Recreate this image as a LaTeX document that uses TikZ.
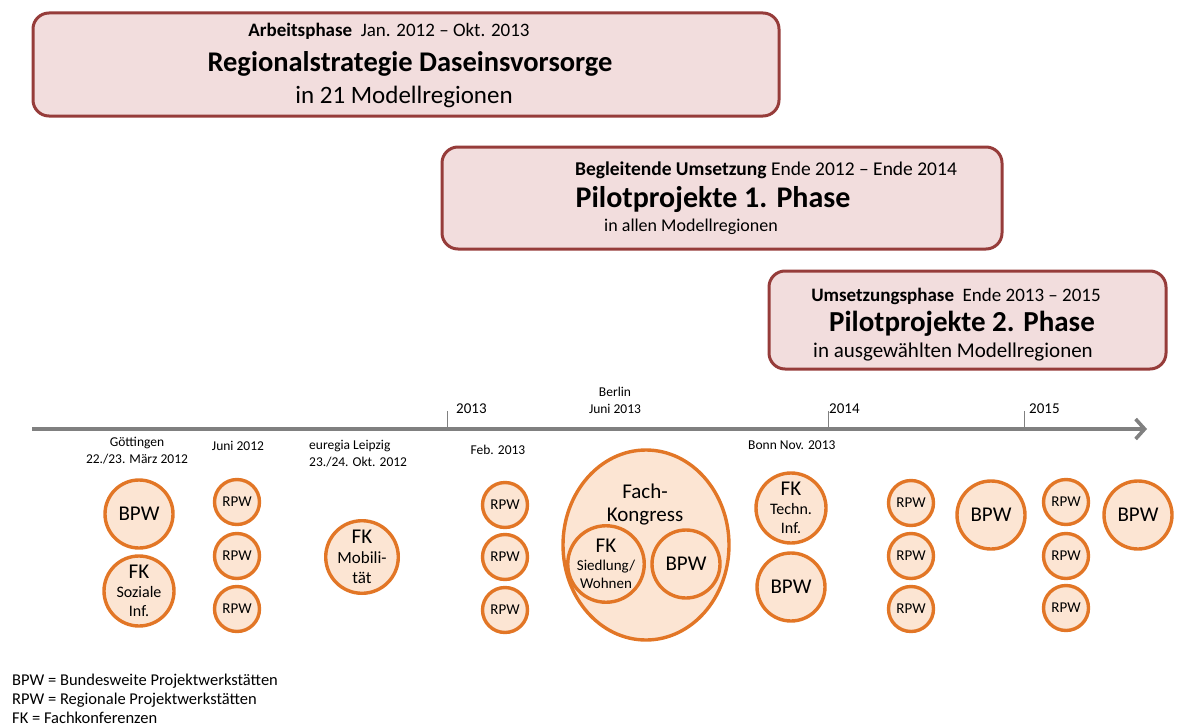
\documentclass[tikz,border=0pt]{standalone}
\usepackage{fontspec}
\setmainfont{Carlito}
\usetikzlibrary{arrows.meta,shapes.geometric}
\definecolor{boxfill}{RGB}{242,221,221}
\definecolor{boxline}{RGB}{150,60,58}
\definecolor{evline}{RGB}{226,118,38}
\definecolor{evfill}{RGB}{252,229,211}
\definecolor{axisgray}{RGB}{128,128,128}
\newcommand{\fkhead}{\fontsize{21}{21}\selectfont FK}
\tikzset{
  phasebox/.style={draw=boxline, fill=boxfill, line width=3pt, rounded corners=16pt},
  ev/.style={circle, draw=evline, fill=evfill, line width=3.4pt, inner sep=0pt, align=center},
  rpw/.style={ev, minimum size=45pt, font=\fontsize{15}{16}\selectfont},
  bpw/.style={ev, minimum size=68pt, font=\fontsize{21}{22}\selectfont},
  fk/.style={ev, minimum size=70pt, font=\fontsize{16}{19}\selectfont},
  lbl/.style={font=\fontsize{13.5}{17}\selectfont, align=center, inner sep=0pt},
  yearlbl/.style={font=\fontsize{15}{16}\selectfont, anchor=west, inner sep=0pt},
  tick/.style={draw=axisgray, line width=0.8pt},
  legend/.style={font=\fontsize{16.5}{19}\selectfont, anchor=base west, inner sep=0pt},
  txt/.style={inner sep=0pt},
}
\begin{document}
\begin{tikzpicture}[x=1pt, y=-1pt]
\useasboundingbox (0,0) rectangle (1177,725);

% phase boxes
\draw[phasebox] (33,13) rectangle (779,116);
\node[txt, font=\fontsize{19}{20}\selectfont] (p1a) at (389,31) {\textbf{Arbeitsphase}\ \ Jan. 2012 – Okt. 2013};
\node[txt, font=\fontsize{28.5}{30}\selectfont\bfseries] (p1b) at (410,64) {Regionalstrategie Daseinsvorsorge};
\node[txt, font=\fontsize{25}{26}\selectfont] (p1c) at (404,97) {in 21 Modellregionen};

\draw[phasebox] (442,147) rectangle (1002,249);
\node[txt, font=\fontsize{19.5}{20}\selectfont] (p2a) at (766,170) {\textbf{Begleitende Umsetzung} Ende 2012 – Ende 2014};
\node[txt, font=\fontsize{30}{31}\selectfont\bfseries] (p2b) at (713,200) {Pilotprojekte 1. Phase};
\node[txt, font=\fontsize{18}{19}\selectfont] (p2c) at (691,227) {in allen Modellregionen};

\draw[phasebox] (769,271) rectangle (1166,369);
\node[txt, font=\fontsize{19}{20}\selectfont] (p3a) at (956,296) {\textbf{Umsetzungsphase}\ \ Ende 2013 – 2015};
\node[txt, font=\fontsize{29}{30}\selectfont\bfseries] (p3b) at (962,324) {Pilotprojekte 2. Phase};
\node[txt, font=\fontsize{21}{22}\selectfont] (p3c) at (953,352) {in ausgewählten Modellregionen};

% time axis
\coordinate (ax0) at (32,429);
\coordinate (ax1) at (1147,429);
\draw[draw=axisgray, line width=3.6pt, -{Straight Barb[length=9pt, width=20pt, line width=3.6pt]}] (ax0) -- (ax1);
\foreach \n/\x in {t13/447, t14/828, t15/1024} {
  \coordinate (\n a) at (\x,429);
  \coordinate (\n b) at (\x,411);
  \draw[tick] (\n a) -- (\n b);
}
\node[yearlbl] (y13) at (456,409) {2013};
\node[yearlbl] (y14) at (829,409) {2014};
\node[yearlbl] (y15) at (1029,409) {2015};
\node[lbl] (berlin) at (615,400) {Berlin\\Juni 2013};

% event labels
\node[lbl] (goe)  at (137,451) {Göttingen\\22./23. März 2012};
\node[lbl] (jun)  at (238,446) {Juni 2012};
\node[lbl, align=left, anchor=west] (leip) at (309,454) {euregia Leipzig\\23./24. Okt. 2012};
\node[lbl] (feb)  at (498,450) {Feb. 2013};
\node[lbl, anchor=west] (bonn) at (748,445) {Bonn Nov. 2013};

% events 2012
\node[bpw] (b1) at (139,514) {BPW};
\node[fk] (f1) at (139,591) {\fkhead\\Soziale\\Inf.};
\node[rpw] (r1) at (237,502) {RPW};
\node[rpw] (r2) at (237,556) {RPW};
\node[rpw] (r3) at (237,609) {RPW};
\node[fk, font=\fontsize{17}{20}\selectfont] (f2) at (362,557) {\fkhead\\Mobili-\\tät};

% events 2013
\node[rpw] (r4) at (505,505) {RPW};
\node[rpw] (r5) at (505,557) {RPW};
\node[rpw] (r6) at (505,610) {RPW};
\node[ev, ellipse, minimum width=166pt, minimum height=190pt] (kon) at (646,545) {};
\node[txt, font=\fontsize{21}{23}\selectfont, align=center] (konl) at (645,505) {Fach-\\Kongress};
\node[fk, font=\fontsize{15}{18}\selectfont] (f3) at (606,564) {\fkhead\\Siedlung/\\Wohnen};
\node[bpw] (b2) at (686,564) {BPW};
\node[fk] (f4) at (791,508) {\fkhead\\Techn.\\Inf.};
\node[bpw] (b3) at (791,587) {BPW};

% events 2014/2015
\node[rpw] (r7) at (911,503) {RPW};
\node[rpw] (r8) at (911,556) {RPW};
\node[rpw] (r9) at (911,609) {RPW};
\node[bpw] (b4) at (991,515) {BPW};
\node[rpw] (r10) at (1066,502) {RPW};
\node[rpw] (r11) at (1066,556) {RPW};
\node[rpw] (r12) at (1066,608) {RPW};
\node[bpw] (b5) at (1138,515) {BPW};

% legend
\node[legend] (leg1) at (12,685) {BPW = Bundesweite Projektwerkstätten};
\node[legend] (leg2) at (12,704) {RPW = Regionale Projektwerkstätten};
\node[legend] (leg3) at (12,723) {FK = Fachkonferenzen};
\end{tikzpicture}
\end{document}
